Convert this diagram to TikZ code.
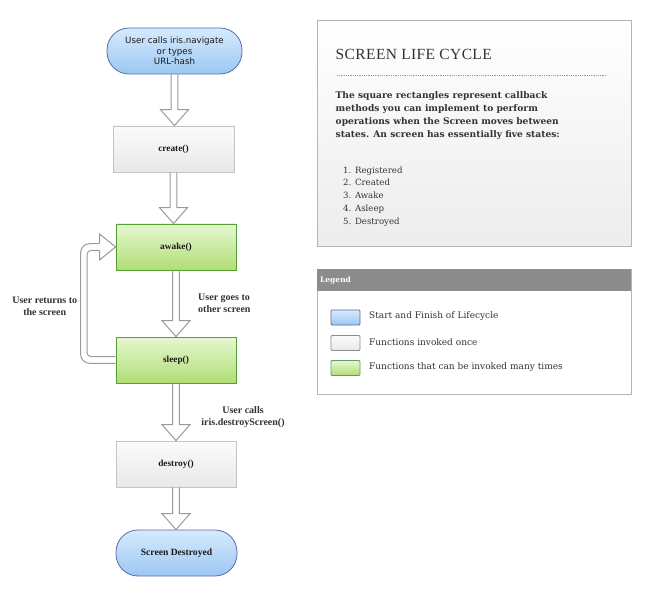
\documentclass[tikz,border=0pt]{standalone}
\usepackage{fontspec}
\setmainfont{Liberation Serif}
\newfontfamily\dvsans{DejaVu Sans}
\newfontfamily\dvserif{DejaVu Serif}
\usetikzlibrary{calc}
\definecolor{bluetop}{HTML}{D6EAFD}
\definecolor{bluebot}{HTML}{9CC7F2}
\definecolor{blueborder}{HTML}{5C6CAA}
\definecolor{graytop}{HTML}{FBFBFB}
\definecolor{graybot}{HTML}{E8E8E8}
\definecolor{grayborder}{HTML}{C4C4C4}
\definecolor{greentop}{HTML}{E6F7D2}
\definecolor{greenbot}{HTML}{B0DE74}
\definecolor{greenborder}{HTML}{55A032}
\definecolor{arrowgray}{HTML}{9A9A9A}
\definecolor{txt}{HTML}{1A1A1A}
\definecolor{infotxt}{HTML}{333333}
\definecolor{infoborder}{HTML}{B4B4B4}
\definecolor{legendhead}{HTML}{8C8C8C}
\newcommand{\harrow}[2]{%
  \draw[arrowline] let \p1=(#1.south), \p2=(#2.north) in
    (\x1-3.3pt,\y1) -- (\x1-3.3pt,\y2+16pt) -- (\x1-14pt,\y2+16pt) -- (\x1,\y2)
    -- (\x1+14pt,\y2+16pt) -- (\x1+3.3pt,\y2+16pt) -- (\x1+3.3pt,\y1);}
\begin{document}
\begin{tikzpicture}[x=1pt,y=-1pt,
  pill/.style={draw=blueborder, line width=0.8pt, top color=bluetop, bottom color=bluebot,
    rounded corners=22pt, minimum height=46pt, align=center, inner sep=0pt, text=txt},
  oncebox/.style={draw=grayborder, line width=0.8pt, top color=graytop, bottom color=graybot,
    minimum width=121pt, minimum height=46pt, inner sep=0pt, text=txt,
    font=\fontsize{9.3}{11}\selectfont\bfseries},
  manybox/.style={draw=greenborder, line width=0.8pt, top color=greentop, bottom color=greenbot,
    minimum width=120pt, minimum height=46pt, inner sep=0pt, text=txt,
    font=\fontsize{9.3}{11}\selectfont\bfseries},
  arrowline/.style={draw=arrowgray, line width=1pt, line join=miter},
  edgelabel/.style={font=\fontsize{10}{11.7}\selectfont\bfseries, text=infotxt, inner sep=0pt},
  swatch/.style={line width=0.8pt, rounded corners=1pt, minimum width=29pt, minimum height=15pt, inner sep=0pt},
  legtext/.style={anchor=west, inner sep=0pt, text=infotxt, font=\dvserif\fontsize{9}{10}\selectfont},
]
\useasboundingbox (0,0) rectangle (651,596);
% flowchart
\node[pill, minimum width=135pt, font=\dvsans\fontsize{8.7}{10.5}\selectfont] (start) at (174.5,51)
  {User calls iris.navigate\\or types\\URL-hash};
\node[oncebox] (create) at (173.5,149) {create()};
\node[manybox] (awake) at (176,247) {awake()};
\node[manybox] (sleep) at (176,360) {sleep()};
\node[oncebox, minimum width=120pt] (destroy) at (176,464) {destroy()};
\node[pill, minimum width=121pt, font=\fontsize{9.6}{11}\selectfont\bfseries] (end) at (176.5,553) {Screen Destroyed};

\harrow{start}{create}
\harrow{create}{awake}
\harrow{awake}{sleep}
\harrow{sleep}{destroy}
\harrow{destroy}{end}

\draw[arrowline] let \p1=(sleep.west), \p2=(awake.west) in
  [rounded corners=9pt] (\x1,\y1-3.3pt) -- (\x1-35pt,\y1-3.3pt) -- (\x1-35pt,\y2+3.3pt) -- (\x2-16pt,\y2+3.3pt)
  [rounded corners=4pt] (\x1,\y1+3.3pt) -- (\x1-28.5pt,\y1+3.3pt) -- (\x1-28.5pt,\y2-3.3pt) -- (\x2-16pt,\y2-3.3pt)
  [sharp corners] (\x2-16pt,\y2+3.3pt) -- (\x2-16pt,\y2+13pt) -- (\x2,\y2) -- (\x2-16pt,\y2-13pt) -- (\x2-16pt,\y2-3.3pt);

\node[edgelabel, anchor=west, align=left] (lgo) at (198,303.5) {User goes to\\other screen};
\node[edgelabel, align=center] (lret) at (44.7,306.5) {User returns to\\the screen};
\node[edgelabel, align=center] (ldes) at (243,417) {User calls\\iris.destroyScreen()};

% info box
\node[draw=infoborder, line width=0.8pt, top color=white, bottom color=graybot!80!white,
  minimum width=314pt, minimum height=226pt, inner sep=0pt, anchor=north west] (info) at (317,20) {};
\node[anchor=west, inner sep=0pt, text=infotxt, font=\fontsize{15.5}{17}\selectfont\addfontfeature{LetterSpace=2.5}] (title) at (335.5,54.5) {SCREEN LIFE CYCLE};
\draw[draw=arrowgray, line width=0.6pt, dash pattern=on 0.6pt off 1.2pt] (337,75.7) -- (607,75.7);
\node[anchor=north west, inner sep=0pt, align=left, text=infotxt, font=\dvserif\fontsize{9.1}{13.1}\selectfont\bfseries] (para) at (335.5,91.5)
  {The square rectangles represent callback\\methods you can implement to perform\\operations when the Screen moves between\\states. An screen has essentially five states:};
\node[anchor=north west, inner sep=0pt, align=left, text=infotxt, font=\dvserif\fontsize{8.6}{12.9}\selectfont] (list) at (343,166.3)
  {1. Registered\\2. Created\\3. Awake\\4. Asleep\\5. Destroyed};

% legend
\node[draw=infoborder, fill=white, line width=0.8pt, minimum width=314pt, minimum height=125pt, inner sep=0pt, anchor=north west] (legend) at (317,269) {};
\node[fill=legendhead, minimum width=314pt, minimum height=22pt, inner sep=0pt, anchor=north west] (leghead) at (317,269) {};
\node[anchor=west, inner sep=0pt, text=white, font=\dvserif\fontsize{7.5}{9}\selectfont\bfseries] (legtitle) at (320,280) {Legend};
\node[swatch, draw=gray!80!blue, top color=bluetop, bottom color=bluebot] (sw1) at (345.5,317.5) {};
\node[swatch, draw=gray!90, top color=graytop, bottom color=graybot] (sw2) at (345.5,343) {};
\node[swatch, draw=gray!80!green, top color=greentop, bottom color=greenbot] (sw3) at (345.5,368) {};
\node[legtext] (lt1) at (369,316) {Start and Finish of Lifecycle};
\node[legtext] (lt2) at (369,341.7) {Functions invoked once};
\node[legtext] (lt3) at (369,367) {Functions that can be invoked many times};
\end{tikzpicture}
\end{document}
